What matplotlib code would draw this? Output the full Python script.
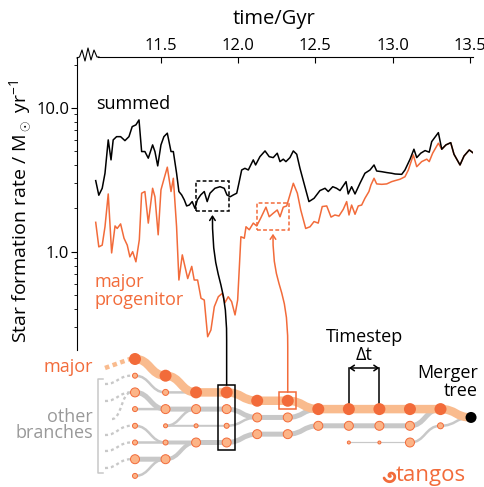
import numpy as np
import matplotlib
matplotlib.use("Agg")
import matplotlib.pyplot as plt
from matplotlib.path import Path
from matplotlib.patches import PathPatch, Rectangle, FancyArrowPatch
from matplotlib.ticker import FixedLocator, FuncFormatter, NullFormatter, LogLocator

plt.rcParams['font.family'] = ['Open Sans', 'DejaVu Sans']
plt.rcParams['mathtext.fontset'] = 'custom'
plt.rcParams['mathtext.rm'] = 'Open Sans'

ORANGE = '#f26b3a'
BAND = '#f9bb8e'
GREY = '#c8c8c8'
NODE_FACE = '#fcb487'

# star formation rate, summed over all branches
t_sum = [11.080, 11.100, 11.122, 11.140, 11.161, 11.179, 11.193, 11.215, 11.241, 11.269,
         11.295, 11.316, 11.340, 11.360, 11.377, 11.398, 11.420, 11.448, 11.463, 11.481,
         11.502, 11.521, 11.543, 11.567, 11.582, 11.603, 11.618, 11.636, 11.653, 11.668,
         11.685, 11.704, 11.722, 11.737, 11.759, 11.782, 11.801, 11.819, 11.851, 11.884,
         11.911, 11.929, 11.950, 11.970, 11.992, 12.006, 12.024, 12.045, 12.067, 12.099,
         12.114, 12.142, 12.175, 12.202, 12.228, 12.254, 12.272, 12.293, 12.310, 12.336,
         12.358, 12.380, 12.401, 12.433, 12.459, 12.492, 12.530, 12.563, 12.584, 12.613,
         12.638, 12.660, 12.699, 12.713, 12.735, 12.757, 12.789, 12.821, 12.854, 12.880,
         12.897, 12.930, 12.962, 12.994, 13.016, 13.059, 13.080, 13.113, 13.138, 13.156,
         13.182, 13.210, 13.237, 13.253, 13.296, 13.318, 13.345, 13.376, 13.397, 13.436,
         13.462, 13.496, 13.518]
sfr_sum = [3.12, 2.47, 2.76, 3.51, 5.99, 4.35, 5.99, 6.31, 6.31, 5.92,
           6.31, 7.41, 7.62, 8.25, 4.97, 4.97, 4.47, 5.53, 4.97, 3.95,
           5.53, 6.31, 6.67, 4.97, 4.97, 3.51, 2.62, 2.48, 2.29, 2.08,
           2.11, 2.23, 2.00, 2.29, 2.48, 2.62, 2.23, 2.55, 2.76, 2.83,
           2.76, 2.48, 2.41, 2.48, 2.55, 2.99, 3.70, 3.80, 3.70, 4.35,
           4.01, 4.58, 5.02, 4.58, 4.51, 4.84, 4.23, 4.40, 4.23, 4.51,
           5.02, 4.76, 3.80, 2.83, 2.23, 2.35, 2.66, 2.76, 2.62, 2.83,
           2.76, 2.66, 3.07, 2.52, 2.83, 2.52, 2.99, 3.51, 3.70, 4.01,
           3.64, 3.60, 3.55, 3.51, 3.47, 3.45, 3.70, 4.40, 5.16, 4.51,
           4.84, 5.05, 4.92, 5.83, 6.73, 5.16, 5.53, 5.73, 4.76, 4.01,
           4.63, 5.10, 4.89]

# star formation rate of the major progenitor only
t_major = [11.080, 11.100, 11.122, 11.140, 11.161, 11.183, 11.205, 11.219, 11.241, 11.263,
           11.284, 11.301, 11.319, 11.340, 11.362, 11.377, 11.398, 11.420, 11.448, 11.463,
           11.484, 11.502, 11.521, 11.543, 11.567, 11.582, 11.603, 11.618, 11.640, 11.657,
           11.675, 11.701, 11.717, 11.739, 11.761, 11.782, 11.804, 11.825, 11.847, 11.873,
           11.898, 11.916, 11.937, 11.959, 11.981, 11.998, 12.019, 12.041, 12.052, 12.073,
           12.099, 12.121, 12.147, 12.181, 12.202, 12.228, 12.254, 12.272, 12.293, 12.315,
           12.336, 12.358, 12.384, 12.406, 12.438, 12.466, 12.492, 12.519, 12.545, 12.574,
           12.602, 12.627, 12.653, 12.681, 12.703, 12.718, 12.735, 12.757, 12.778, 12.800,
           12.821, 12.847, 12.860, 12.880, 12.897, 12.930, 12.962, 12.994, 13.016, 13.048,
           13.080, 13.102, 13.134, 13.156, 13.188, 13.221, 13.237, 13.259, 13.296, 13.318,
           13.345, 13.376, 13.397, 13.436, 13.462, 13.496, 13.518]
sfr_major = [1.60, 1.08, 1.11, 1.49, 2.52, 0.98, 1.51, 1.45, 1.56, 1.24,
             1.11, 0.92, 1.00, 0.85, 1.21, 2.55, 2.62, 1.58, 2.76, 2.41,
             1.31, 2.69, 3.19, 3.87, 2.62, 3.24, 1.49, 0.635, 0.95, 0.79,
             0.65, 0.79, 0.635, 0.635, 0.474, 0.461, 0.256, 0.285, 0.414, 0.486,
             0.513, 0.442, 0.486, 0.449, 0.363, 0.461, 1.27, 1.24, 1.49, 1.42,
             1.58, 1.51, 1.71, 2.04, 1.75, 1.85, 1.95, 1.75, 2.04, 2.08,
             2.48, 2.99, 2.55, 1.95, 1.45, 1.49, 1.62, 1.58, 2.06, 2.08,
             1.74, 1.80, 1.77, 1.97, 2.23, 1.80, 2.11, 1.82, 2.08, 2.11,
             2.35, 2.62, 2.91, 3.24, 2.96, 2.94, 2.96, 3.07, 3.12, 3.19,
             3.32, 3.70, 4.71, 3.90, 4.23, 4.40, 4.23, 4.84, 5.68, 5.16,
             5.53, 5.73, 4.76, 4.01, 4.63, 5.10, 4.89]

x_ticks = [11.5, 12.0, 12.5, 13.0, 13.5]
y_ticks = [1.0, 10.0]

# highlighted windows (time range, sfr range)
box_sum = (11.73, 11.94, 1.92, 3.10)
box_major = (12.123, 12.33, 1.42, 2.18)

# merger tree schematic: columns are timesteps, rows are branch slots
major_rows = [0, 1, 2, 2, 2.5, 2.5, 3, 3, 3, 3, 3, 3.5]
# (column, row, diameter in px)
other_nodes = [(0, 1, 5), (0, 2, 9), (0, 3, 5), (0, 4, 5), (0, 5, 5), (0, 6, 9), (0, 7, 5),
               (1, 2, 6), (1, 3, 9), (1, 4, 4), (1, 5, 5), (1, 6, 9),
               (2, 3, 9), (2, 4, 4), (2, 5, 9),
               (3, 3, 9), (3, 4, 5), (3, 5, 9),
               (4, 3.5, 9), (4, 4.5, 9), (5, 3.5, 9), (5, 4.5, 9),
               (6, 4, 9), (7, 4, 9), (7, 5, 3), (8, 4, 9), (8, 5, 3),
               (9, 4, 9), (9, 5, 9), (10, 4, 6)]
# (col0, row0, col1, row1, width in px)
other_links = [(0, 1, 1, 2, 2.5), (0, 2, 1, 3, 5), (0, 3, 1, 3, 2.5), (0, 4, 1, 5, 2.5),
               (0, 5, 1, 5, 2.5), (0, 6, 1, 6, 5), (0, 7, 1, 6, 2.5),
               (1, 2, 2, 2, 2.5), (1, 3, 2, 3, 5), (1, 4, 2, 3, 2.5), (1, 4, 2, 4, 2),
               (1, 5, 2, 5, 4), (1, 6, 2, 5, 4),
               (2, 3, 3, 3, 5), (2, 4, 3, 4, 2), (2, 5, 3, 5, 5),
               (3, 3, 4, 3.5, 5), (3, 4, 4, 3.5, 2.5), (3, 5, 4, 4.5, 5),
               (4, 3.5, 5, 3.5, 5), (4, 4.5, 5, 4.5, 5),
               (5, 3.5, 6, 3, 5), (5, 4.5, 6, 4, 5),
               (6, 4, 7, 4, 5), (7, 4, 8, 4, 5), (8, 4, 9, 4, 5), (9, 4, 10, 3, 5),
               (7, 5, 8, 5, 1.2), (8, 5, 9, 5, 1.2), (9, 5, 10, 4, 2.5), (10, 4, 11, 3.5, 2.5)]
# faded earlier history: (start x px, start y px, row it leads into)
history_rows = [(105, 384, 1), (105, 401, 2), (112, 419, 2), (105, 435, 4), (105, 451, 5), (105, 468, 6)]


def col_x(c):
    return 135 + 30.55 * c


def row_y(r):
    return 359 + 16.7 * r


def px(v):
    return v * 0.72


def s_curve(x0, y0, x1, y1):
    xm = (x0 + x1) / 2
    return [(xm, y0), (xm, y1), (x1, y1)]


fig = plt.figure(figsize=(4.85, 4.87), dpi=100)
ax = fig.add_axes([77 / 485, 1 - 350 / 487, (473 - 77) / 485, (350 - 57) / 487])

ax.plot(t_major, sfr_major, color=ORANGE, lw=1.1, zorder=2)
ax.plot(t_sum, sfr_sum, color='black', lw=1.1, zorder=3)

ax.set_yscale('log')
ax.set_xlim(10.959, 13.52)
ax.set_ylim(0.207, 22.6)
ax.xaxis.tick_top()
ax.set_xticks(x_ticks)
ax.xaxis.set_major_formatter(FuncFormatter(lambda v, p: '%.1f' % v))
ax.yaxis.set_major_locator(FixedLocator(y_ticks))
ax.yaxis.set_major_formatter(FuncFormatter(lambda v, p: '%.1f' % v))
ax.yaxis.set_minor_locator(LogLocator(subs=range(2, 10)))
ax.yaxis.set_minor_formatter(NullFormatter())
ax.tick_params(axis='x', which='both', direction='in', length=4, width=0.8, labelsize=12, pad=2)
ax.tick_params(axis='y', which='major', direction='out', length=4, width=0.8, labelsize=12, pad=1.5)
ax.tick_params(axis='y', which='minor', direction='out', length=2.5, width=0.6)
ax.spines['bottom'].set_visible(False)
ax.spines['right'].set_visible(False)
ax.spines['top'].set_bounds(11.095, 13.52)
for sp in ['top', 'left']:
    ax.spines[sp].set_linewidth(0.8)
ax.patch.set_alpha(0)

ax.text(11.08, 10.6, 'summed', fontsize=13, color='black', va='center')
ax.text(11.07, 0.53, 'major\nprogenitor', fontsize=13, color=ORANGE, va='center', linespacing=1.0)

for (t0, t1, s0, s1), col in [(box_sum, 'black'), (box_major, ORANGE)]:
    ax.add_patch(Rectangle((t0, s0), t1 - t0, s1 - s0, fill=False, ec=col, lw=1.1,
                           ls=(0, (2.5, 1.5)), zorder=4))

fig.text(274 / 485, 1 - 19 / 487, 'time/Gyr', fontsize=14.5, ha='center', va='center')
fig.text(20 / 485, 1 - 211 / 487, 'Star formation rate / M$_\\odot$ yr$^{-1}$', fontsize=14,
         rotation=90, ha='center', va='center')

# overlay in pixel units for the schematic
ov = fig.add_axes([0, 0, 1, 1], zorder=5)
ov.set_xlim(0, 485)
ov.set_ylim(487, 0)
ov.axis('off')
ov.patch.set_alpha(0)

# broken axis zigzag at top left
ov.plot([77, 79.5, 82, 85, 88, 91, 94, 97, 99], [58, 57, 50, 61, 48, 60, 50, 57, 57],
        color='black', lw=0.8, clip_on=False)

# grey branches
for c0, r0, c1, r1, w in other_links:
    x0, y0, x1, y1 = col_x(c0), row_y(r0), col_x(c1), row_y(r1)
    verts = [(x0, y0)] + s_curve(x0, y0, x1, y1)
    ov.add_patch(PathPatch(Path(verts, [Path.MOVETO] + [Path.CURVE4] * 3), fc='none',
                           ec=GREY, lw=px(w), capstyle='butt', zorder=1))

for x0, y0, r in history_rows:
    x1, y1 = col_x(0) - 4, row_y(r)
    verts = [(x0, y0)] + s_curve(x0, y0, x1, y1)
    ov.add_patch(PathPatch(Path(verts, [Path.MOVETO] + [Path.CURVE4] * 3), fc='none',
                           ec=GREY, lw=px(2.3), ls=(0, (1.3, 1.3)), zorder=1))
ov.plot([105, col_x(0) - 5], [368, row_y(0)], color=BAND, lw=px(4.5), ls=(0, (1.0, 0.8)), zorder=1)

# major progenitor band
verts = [(col_x(0), row_y(major_rows[0]))]
for c in range(1, len(major_rows)):
    verts += s_curve(col_x(c - 1), row_y(major_rows[c - 1]), col_x(c), row_y(major_rows[c]))
codes = [Path.MOVETO] + [Path.CURVE4] * (len(verts) - 1)
ov.add_patch(PathPatch(Path(verts, codes), fc='none', ec=BAND, lw=px(8.5),
                       capstyle='round', joinstyle='round', zorder=2))

# nodes
ov.scatter([col_x(c) for c, r, d in other_nodes], [row_y(r) for c, r, d in other_nodes],
           s=[px(d) ** 2 for c, r, d in other_nodes], fc=NODE_FACE, ec=ORANGE, lw=0.7, zorder=3)
ov.scatter([col_x(c) for c in range(len(major_rows) - 1)], [row_y(r) for r in major_rows[:-1]],
           s=px(12) ** 2, fc=ORANGE, ec='none', zorder=3)
ov.scatter([col_x(len(major_rows) - 1)], [row_y(major_rows[-1])], s=px(11) ** 2,
           fc='black', ec='none', zorder=3)

# bracket for other branches
ov.plot([103, 97.7, 97.7, 103], [379, 379, 472.7, 472.7], color=GREY, lw=1.1)
ov.text(93, 367, 'major', color=ORANGE, fontsize=13, ha='right', va='center')
ov.text(93, 425, 'other\nbranches', color='#999999', fontsize=13, ha='right', va='center',
        linespacing=0.92)

# selection boxes in tree
ov.add_patch(Rectangle((col_x(3) - 8.5, 385), 17, 65, fill=False, ec='black', lw=1.1, zorder=4))
ov.add_patch(Rectangle((col_x(5) - 8.5, row_y(2.5) - 8.5), 17, 17, fill=False, ec=ORANGE,
                       lw=1.1, zorder=4))

# connectors from plot windows to tree
to_ov = lambda p: ov.transData.inverted().transform(ax.transData.transform(p))
for (t0, t1, s0, s1), col, (bx, by) in [(box_sum, 'black', (col_x(3), 385)),
                                        (box_major, ORANGE, (col_x(5), row_y(2.5) - 8.5))]:
    tx, ty = to_ov(((t0 + t1) / 2, s0))
    ty += 4
    verts = [(bx, by), (bx, by - 45), (bx, by - 110), (tx, by - 100), (tx, ty)]
    codes = [Path.MOVETO, Path.LINETO, Path.CURVE4, Path.CURVE4, Path.CURVE4]
    ov.add_patch(FancyArrowPatch(path=Path(verts, codes), arrowstyle='->,head_length=3,head_width=2',
                                 color=col, lw=1.1, zorder=4))

# timestep marker
for c in [7, 8]:
    ov.plot([col_x(c), col_x(c)], [368, row_y(3)], color='black', lw=1.1, zorder=1.5)
ov.add_patch(FancyArrowPatch((col_x(7), 368), (col_x(8), 368),
                             arrowstyle='<->,head_length=3,head_width=2', color='black', lw=1.1,
                             shrinkA=0, shrinkB=0))
ov.text((col_x(7) + col_x(8)) / 2, 346, 'Timestep\nΔt', fontsize=13, ha='center', va='center',
        linespacing=1.0)
ov.text(478, 382, 'Merger\ntree', fontsize=13, ha='right', va='center', linespacing=0.95)

# tangos logo: small swirl and wordmark
theta = np.linspace(0.3, 2.4 * np.pi, 60)
rad = 7.0 - 0.9 * theta
ov.plot(390.5 + rad * np.cos(theta + np.pi), 476 - rad * np.sin(theta + np.pi),
        color=ORANGE, lw=2.0, solid_capstyle='round')
ov.text(396, 475, 'tangos', color=ORANGE, fontsize=16, ha='left', va='center', weight='medium')

fig.savefig('out.png', dpi=100)
